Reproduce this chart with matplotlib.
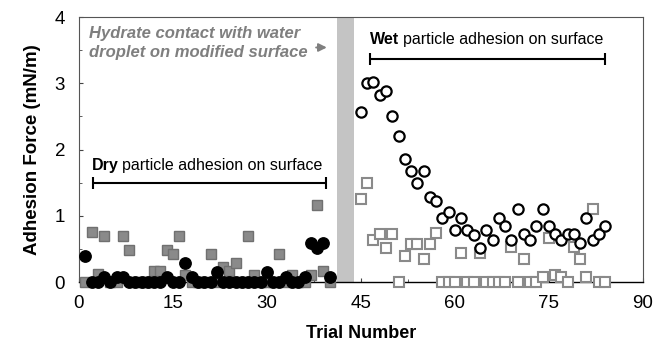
import matplotlib
matplotlib.use("Agg")
import matplotlib.pyplot as plt
from matplotlib.ticker import MultipleLocator

plt.rcParams['font.family'] = ['Liberation Sans', 'DejaVu Sans']

# dry particles, trials 1-40
dry_trial = list(range(1, 41))
dry_circle = [0.39, 0.0, 0.0, 0.08, 0.0, 0.08, 0.08, 0.0, 0.0, 0.0,
              0.0, 0.0, 0.0, 0.08, 0.0, 0.0, 0.28, 0.08, 0.0, 0.0,
              0.0, 0.15, 0.0, 0.0, 0.0, 0.0, 0.0, 0.0, 0.0, 0.15,
              0.0, 0.0, 0.08, 0.0, 0.0, 0.08, 0.59, 0.51, 0.59, 0.08]
dry_square = [0.0, 0.76, 0.12, 0.69, 0.0, 0.0, 0.69, 0.49, 0.0, 0.0,
              0.0, 0.17, 0.17, 0.49, 0.43, 0.69, 0.1, 0.0, 0.0, 0.0,
              0.43, 0.0, 0.23, 0.17, 0.29, 0.0, 0.69, 0.1, 0.0, 0.0,
              0.0, 0.43, 0.0, 0.1, 0.0, 0.0, 0.1, 1.16, 0.17, 0.0]

# wet particles, trials 45-84
wet_trial = list(range(45, 85))
wet_circle = [2.57, 3.01, 3.02, 2.83, 2.89, 2.51, 2.20, 1.86, 1.68, 1.49,
              1.67, 1.29, 1.22, 0.96, 1.05, 0.78, 0.96, 0.78, 0.71, 0.52,
              0.78, 0.64, 0.96, 0.85, 0.64, 1.10, 0.72, 0.64, 0.85, 1.10,
              0.85, 0.73, 0.64, 0.73, 0.73, 0.59, 0.96, 0.64, 0.72, 0.85]
wet_square = [1.25, 1.49, 0.63, 0.73, 0.51, 0.73, 0.0, 0.39, 0.58, 0.58,
              0.35, 0.58, 0.74, 0.0, 0.0, 0.0, 0.44, 0.0, 0.0, 0.44,
              0.0, 0.0, 0.0, 0.0, 0.53, 0.0, 0.34, 0.0, 0.0, 0.07,
              0.66, 0.10, 0.07, 0.0, 0.53, 0.34, 0.07, 1.10, 0.0, 0.0]

contact_span = (41.2, 43.9)

fig = plt.figure(figsize=(6.56, 3.45), dpi=100)
ax = fig.add_axes([0.1204, 0.1826, 0.8596, 0.7681])

ax.axvspan(*contact_span, color='#c4c4c4', lw=0, zorder=1)

ax.plot(dry_trial, dry_square, 's', ms=7.3, mfc='#8a8a8a', mec='#707070', mew=1.0,
        clip_on=False, zorder=3)
ax.plot(dry_trial, dry_circle, 'o', ms=8.2, mfc='black', mec='black',
        clip_on=False, zorder=4)
ax.plot(wet_trial, wet_square, 's', ms=6.8, mfc='white', mec='#8a8a8a', mew=1.5,
        clip_on=False, zorder=3)
ax.plot(wet_trial, wet_circle, 'o', ms=7.4, mfc='white', mec='black', mew=1.6,
        clip_on=False, zorder=4)

ax.set_xlim(0, 90)
ax.set_ylim(0, 4)
ax.xaxis.set_major_locator(MultipleLocator(15))
ax.xaxis.set_minor_locator(MultipleLocator(7.5))
ax.yaxis.set_major_locator(MultipleLocator(1))
ax.yaxis.set_minor_locator(MultipleLocator(0.5))
ax.tick_params(which='both', direction='in', labelsize=13.5, color='#444444')
ax.tick_params(which='major', length=3)
ax.tick_params(which='minor', length=2)
ax.tick_params(axis='y', pad=10)
ax.tick_params(axis='x', pad=9)

for side in ['top', 'right', 'left']:
    ax.spines[side].set_color('#555555')
    ax.spines[side].set_linewidth(0.8)
ax.spines['bottom'].set_color('black')
ax.spines['bottom'].set_linewidth(1.0)

ax.set_xlabel('Trial Number', fontsize=13, fontweight='bold', labelpad=10)
ax.set_ylabel('Adhesion Force (mN/m)', fontsize=13.5, fontweight='bold', labelpad=10)

# annotations
ax.text(1.6, 3.86, 'Hydrate contact with water\ndroplet on modified surface',
        fontsize=12, fontweight='bold', fontstyle='italic', color='#7f7f7f',
        va='top', ha='left', linespacing=1.3)
ax.annotate('', xy=(40.0, 3.54), xytext=(37.4, 3.54),
            arrowprops=dict(arrowstyle='-|>', color='#7f7f7f', lw=1.4,
                            mutation_scale=12))

t1 = ax.text(46.5, 3.54, 'Wet', fontsize=11.5, fontweight='bold', va='bottom')
ax.annotate('particle adhesion on surface', xy=(1, 0), xycoords=t1,
            xytext=(2.5, 0), textcoords='offset points', fontsize=11.5, va='bottom')
ax.errorbar([65.25], [3.37], xerr=[[18.75], [18.75]], fmt='none', ecolor='black',
            elinewidth=1.5, capsize=4, capthick=1.5)

t2 = ax.text(2.1, 1.65, 'Dry', fontsize=11.5, fontweight='bold', va='bottom')
ax.annotate('particle adhesion on surface', xy=(1, 0), xycoords=t2,
            xytext=(2.5, 0), textcoords='offset points', fontsize=11.5, va='bottom')
ax.errorbar([20.8], [1.49], xerr=[[18.6], [18.6]], fmt='none', ecolor='black',
            elinewidth=1.5, capsize=4, capthick=1.5)

fig.savefig('out.png', dpi=100)
